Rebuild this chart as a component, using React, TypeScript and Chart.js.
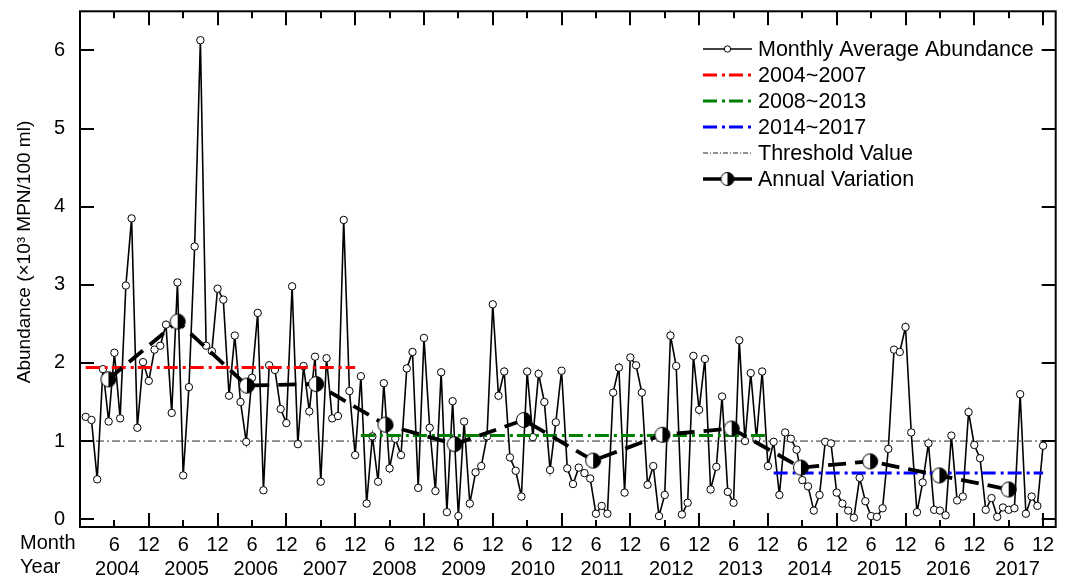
import { useEffect, useRef } from "react";
import { Chart, registerables } from "chart.js";

Chart.register(...registerables);

const FONT = "'Liberation Sans', Arial, Helvetica, sans-serif";

const YEARS = ["2004", "2005", "2006", "2007", "2008", "2009", "2010", "2011", "2012", "2013", "2014", "2015", "2016", "2017"];
const MONTH_LABELS = ["6", "12"];
const Y_TICKS = [0, 1, 2, 3, 4, 5, 6];
const Y_TITLE = "Abundance (×10³ MPN/100 ml)";

// Monthly average abundance, Jan 2004 .. Dec 2017 (x10^3 MPN/100 ml)
const MONTHLY = [
  1.31, 1.27, 0.51, 1.92, 1.25, 2.13, 1.29, 2.99, 3.85, 1.17, 2.01, 1.77,
  2.17, 2.22, 2.49, 1.36, 3.03, 0.56, 1.69, 3.49, 6.13, 2.22, 2.15, 2.95,
  2.81, 1.58, 2.35, 1.50, 0.99, 1.81, 2.64, 0.37, 1.97, 1.91, 1.41, 1.23,
  2.98, 0.96, 1.96, 1.38, 2.08, 0.48, 2.06, 1.29, 1.32, 3.83, 1.64, 0.82,
  1.83, 0.20, 1.06, 0.48, 1.74, 0.65, 1.03, 0.82, 1.93, 2.14, 0.40, 2.32,
  1.17, 0.36, 1.88, 0.09, 1.51, 0.04, 1.25, 0.20, 0.60, 0.68, 1.06, 2.75,
  1.58, 1.89, 0.79, 0.62, 0.29, 1.89, 1.05, 1.86, 1.50, 0.63, 1.24, 1.90,
  0.65, 0.45, 0.66, 0.59, 0.52, 0.07, 0.17, 0.07, 1.62, 1.94, 0.34, 2.07,
  1.97, 1.62, 0.44, 0.68, 0.04, 0.31, 2.35, 1.96, 0.06, 0.21, 2.09, 1.40,
  2.05, 0.38, 0.67, 1.57, 0.35, 0.21, 2.29, 1.00, 1.87, 1.03, 1.89, 0.68,
  0.99, 0.31, 1.11, 1.03, 0.89, 0.50, 0.42, 0.11, 0.31, 0.99, 0.97, 0.34,
  0.20, 0.11, 0.02, 0.53, 0.23, 0.04, 0.03, 0.14, 0.90, 2.17, 2.14, 2.46,
  1.11, 0.09, 0.47, 0.97, 0.12, 0.11, 0.05, 1.07, 0.24, 0.29, 1.37, 0.95,
  0.78, 0.12, 0.27, 0.03, 0.15, 0.12, 0.14, 1.60, 0.07, 0.29, 0.17, 0.94,
];

// Annual variation (yearly means)
const ANNUAL = [1.79, 2.53, 1.71, 1.73, 1.21, 0.96, 1.27, 0.75, 1.08, 1.16, 0.66, 0.74, 0.56, 0.38];

// Period means
const PERIOD_LABELS = ["2004~2007", "2008~2013", "2014~2017"];
const PERIOD_MEANS = [1.94, 1.07, 0.59];
const PERIOD_START = [0, 48, 120];
const PERIOD_END = [47, 119, 167];
const PERIOD_COLORS = ["#ff0000", "#008000", "#0000ff"];

const THRESHOLD = 1;

const X_MIN = -1;
const X_MAX = 169.2;
const YEAR_STEP = 12.08;

const MONTH_TICK_POS: number[] = [];
YEARS.forEach((_, k) => {
  MONTH_TICK_POS.push(12 * k + 5, 12 * k + 11);
});
const YEAR_TICK_POS = YEARS.map((_, k) => 5.5 + YEAR_STEP * k);
const ANNUAL_X = ANNUAL.map((_, k) => 3.95 + YEAR_STEP * k);

const DASH_DOT = [14, 5, 3, 4];
const THRESH_DASH = [8, 3, 2, 3];
const ANNUAL_DASH = [18, 9];

function makeHalfMarker(r: number) {
  const c = document.createElement("canvas");
  const s = Math.ceil(2 * r + 3);
  c.width = s;
  c.height = s;
  const g = c.getContext("2d")!;
  const cx = s / 2;
  g.beginPath();
  g.arc(cx, cx, r, 0, 2 * Math.PI);
  g.fillStyle = "#fff";
  g.fill();
  g.beginPath();
  g.moveTo(cx, cx - r);
  g.arc(cx, cx, r, -Math.PI / 2, Math.PI / 2);
  g.closePath();
  g.fillStyle = "#000";
  g.fill();
  g.beginPath();
  g.arc(cx, cx, r, 0, 2 * Math.PI);
  g.lineWidth = 1;
  g.strokeStyle = "#000";
  g.stroke();
  return c;
}

const zeroPad = (s: any) => {
  s.paddingTop = 0;
  s.paddingBottom = 0;
  s.paddingLeft = 0;
  s.paddingRight = 0;
};

export default function App() {
  const ref = useRef<HTMLCanvasElement>(null);

  useEffect(() => {
    const marker = makeHalfMarker(7.5);
    const legendMarker = makeHalfMarker(6.5);

    const framePlugin = {
      id: "frameTicks",
      afterDraw(chart: any) {
        const { ctx, chartArea: a, scales } = chart;
        const xs = scales.x;
        const ys = scales.y;
        ctx.save();
        ctx.strokeStyle = "#000";
        ctx.lineWidth = 2;
        ctx.setLineDash([]);
        ctx.strokeRect(a.left, a.top, a.right - a.left, a.bottom - a.top);
        ctx.beginPath();
        for (const v of Y_TICKS) {
          const py = Math.round(ys.getPixelForValue(v));
          ctx.moveTo(a.left, py);
          ctx.lineTo(a.left + 14, py);
          ctx.moveTo(a.right, py);
          ctx.lineTo(a.right - 14, py);
        }
        for (const v of MONTH_TICK_POS) {
          const len = v % 12 === 11 ? 14 : 7;
          const px = Math.round(xs.getPixelForValue(v));
          ctx.moveTo(px, a.bottom);
          ctx.lineTo(px, a.bottom - len);
          ctx.moveTo(px, a.top);
          ctx.lineTo(px, a.top + len);
        }
        ctx.stroke();

        ctx.fillStyle = "#000";
        ctx.font = `20px ${FONT}`;
        ctx.textAlign = "left";
        ctx.textBaseline = "middle";
        ctx.fillText("Month", 20, 543);
        ctx.fillText("Year", 20, 567);

        ctx.translate(25, 252);
        ctx.rotate(-Math.PI / 2);
        ctx.textAlign = "center";
        ctx.font = `19px ${FONT}`;
        ctx.fillText(Y_TITLE, 0, 0);
        ctx.restore();
      },
    };

    const legendPlugin = {
      id: "customLegend",
      afterDraw(chart: any) {
        const { ctx } = chart;
        const x0 = 703;
        const x1 = 752;
        const tx = 758;
        const rows = [49, 75, 101, 127, 153, 179];
        const labels = ["Monthly Average Abundance", ...PERIOD_LABELS, "Threshold Value", "Annual Variation"];
        ctx.save();
        ctx.strokeStyle = "#000";
        ctx.lineWidth = 1.5;
        ctx.setLineDash([]);
        ctx.beginPath();
        ctx.moveTo(x0, rows[0]);
        ctx.lineTo(x1, rows[0]);
        ctx.stroke();
        ctx.beginPath();
        ctx.arc((x0 + x1) / 2, rows[0], 3.2, 0, 2 * Math.PI);
        ctx.fillStyle = "#fff";
        ctx.fill();
        ctx.lineWidth = 1;
        ctx.stroke();
        PERIOD_COLORS.forEach((c, k) => {
          ctx.strokeStyle = c;
          ctx.lineWidth = 3;
          ctx.setLineDash(DASH_DOT);
          ctx.beginPath();
          ctx.moveTo(x0, rows[k + 1]);
          ctx.lineTo(x1, rows[k + 1]);
          ctx.stroke();
        });
        ctx.strokeStyle = "#222";
        ctx.lineWidth = 1;
        ctx.setLineDash([5, 2, 1, 2]);
        ctx.beginPath();
        ctx.moveTo(x0, rows[4]);
        ctx.lineTo(x1, rows[4]);
        ctx.stroke();
        ctx.strokeStyle = "#000";
        ctx.lineWidth = 3.5;
        ctx.setLineDash([]);
        ctx.beginPath();
        ctx.moveTo(x0, rows[5]);
        ctx.lineTo(x1, rows[5]);
        ctx.stroke();
        ctx.drawImage(
          legendMarker,
          (x0 + x1) / 2 - legendMarker.width / 2,
          rows[5] - legendMarker.height / 2
        );
        ctx.fillStyle = "#000";
        ctx.font = `21.5px ${FONT}`;
        ctx.textAlign = "left";
        ctx.textBaseline = "middle";
        labels.forEach((t, k) => ctx.fillText(t, tx, rows[k] + 1));
        ctx.restore();
      },
    };

    const datasets: any[] = [
      {
        label: "Annual Variation",
        data: ANNUAL.map((v, k) => ({ x: ANNUAL_X[k], y: v })),
        borderColor: "#000",
        borderWidth: 3.8,
        borderDash: ANNUAL_DASH,
        pointStyle: marker,
        pointRadius: 7.5,
        order: 0,
      },
      ...PERIOD_MEANS.map((m, k) => ({
        label: PERIOD_LABELS[k],
        data: [
          { x: PERIOD_START[k], y: m },
          { x: PERIOD_END[k], y: m },
        ],
        borderColor: PERIOD_COLORS[k],
        borderWidth: 3,
        borderDash: DASH_DOT,
        pointRadius: 0,
        order: 1,
      })),
      {
        label: "Monthly Average Abundance",
        data: MONTHLY.map((v, i) => ({ x: i, y: v })),
        borderColor: "#000",
        borderWidth: 1.6,
        pointRadius: 3.7,
        pointBackgroundColor: "#fff",
        pointBorderColor: "#000",
        pointBorderWidth: 1,
        order: 2,
      },
      {
        label: "Threshold Value",
        data: [
          { x: X_MIN, y: THRESHOLD },
          { x: X_MAX, y: THRESHOLD },
        ],
        borderColor: "#111",
        borderWidth: 0.9,
        borderDash: THRESH_DASH,
        pointRadius: 0,
        order: 3,
      },
    ];

    const chart = new Chart(ref.current!, {
      type: "line",
      data: { datasets },
      options: {
        responsive: false,
        animation: false,
        layout: { padding: { left: 0, right: 4, top: 10, bottom: 0 } },
        plugins: {
          legend: { display: false },
          tooltip: { enabled: false },
        },
        elements: { line: { tension: 0 } },
        scales: {
          x: {
            type: "linear",
            position: "bottom",
            min: X_MIN,
            max: X_MAX,
            weight: 0,
            grid: { display: false, drawTicks: false },
            border: { display: false },
            afterBuildTicks: (s: any) => {
              s.ticks = MONTH_TICK_POS.map((v) => ({ value: v }));
            },
            afterFit: (s: any) => {
              s.height = 28;
              zeroPad(s);
            },
            ticks: {
              autoSkip: false,
              maxRotation: 0,
              padding: 6,
              color: "#000",
              font: { family: FONT, size: 20 },
              callback: (v: any) => (Number(v) % 12 === 5 ? MONTH_LABELS[0] : MONTH_LABELS[1]),
            },
          },
          x2: {
            type: "linear",
            position: "bottom",
            min: X_MIN,
            max: X_MAX,
            weight: 1,
            grid: { display: false, drawTicks: false },
            border: { display: false },
            afterBuildTicks: (s: any) => {
              s.ticks = YEAR_TICK_POS.map((v) => ({ value: v }));
            },
            afterFit: (s: any) => {
              s.height = 26;
              zeroPad(s);
            },
            ticks: {
              autoSkip: false,
              maxRotation: 0,
              padding: 2,
              color: "#000",
              font: { family: FONT, size: 20 },
              callback: (_v: any, idx: number) => YEARS[idx],
            },
          },
          y: {
            type: "linear",
            min: -0.1,
            max: 6.5,
            grid: { display: false, drawTicks: false },
            border: { display: false },
            afterBuildTicks: (s: any) => {
              s.ticks = Y_TICKS.map((v) => ({ value: v }));
            },
            afterFit: (s: any) => {
              s.width = 80;
              zeroPad(s);
            },
            ticks: {
              padding: 15,
              color: "#000",
              font: { family: FONT, size: 20 },
              callback: (v: any) => String(v),
            },
          },
        },
      } as any,
      plugins: [framePlugin, legendPlugin],
    });
    return () => chart.destroy();
  }, []);

  return (
    <div style={{ position: "absolute", left: 0, top: 0, width: 1067, height: 581, background: "#fff" }}>
      <canvas ref={ref} width={1067} height={581} style={{ display: "block" }} />
    </div>
  );
}
